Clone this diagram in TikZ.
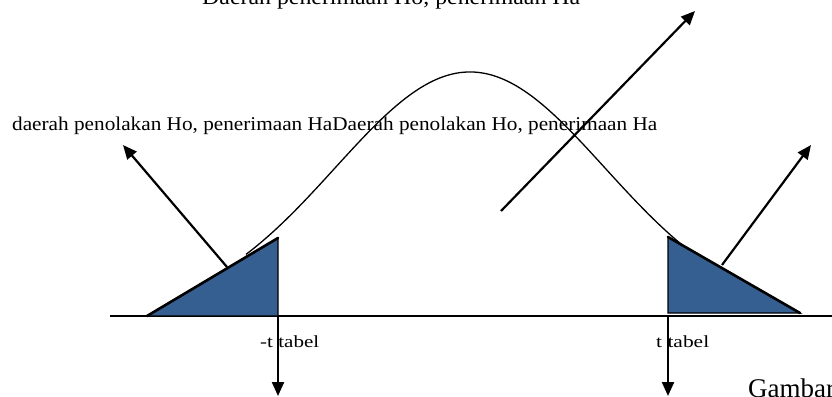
\documentclass[tikz,border=0pt]{standalone}
\usepackage{fontspec}
\setmainfont{Liberation Serif}
\usepackage{graphicx}
\usetikzlibrary{arrows.meta}
\definecolor{regblue}{RGB}{54,95,145}
\begin{document}
\begin{tikzpicture}[x=1pt,y=-1pt,
  arr/.style={line width=2.2pt,-{Triangle[length=14pt,width=12pt]}},
  txt/.style={inner sep=0pt,anchor=base west},
  reg/.style={fill=regblue,draw=black,line width=1.4pt,line join=miter},
  hyp/.style={line width=2.6pt,line cap=round},
  curve/.style={line width=1.3pt}]
\clip (0,0) rectangle (832,396);
\useasboundingbox (0,0) rectangle (832,396);
% axis
\coordinate (axL) at (110,316);
\coordinate (axR) at (832,316);
\draw[line width=1.8pt] (axL) -- (axR);
% bell curve
\draw[curve] plot[domain=246:688, samples=90, smooth]
  (\x, {316-244*exp(-0.5*((\x-470)/135)^2)});
% rejection regions
\coordinate (lt1) at (147,316);
\coordinate (lt2) at (278,238);
\coordinate (lt3) at (278,316);
\coordinate (rt1) at (668,237);
\coordinate (rt2) at (668,313);
\coordinate (rt3) at (800,313);
\filldraw[reg] (lt1) -- (lt2) -- (lt3) -- cycle;
\draw[hyp] (lt1) -- (lt2);
\filldraw[reg] (rt1) -- (rt2) -- (rt3) -- cycle;
\draw[hyp] (rt1) -- (rt3);
% texts
\node[txt] (acc) at (202,5) {\resizebox{378pt}{\height}{\fontsize{22}{26}\selectfont Daerah penerimaan Ho, penerimaan Ha}};
\node[txt] (rej) at (12,130) {\resizebox{645pt}{\height}{\fontsize{19.5}{23}\selectfont daerah penolakan Ho, penerimaan HaDaerah penolakan Ho, penerimaan Ha}};
\node[txt] (tneg) at (260,347) {\resizebox{59pt}{\height}{\fontsize{17}{20}\selectfont -t tabel}};
\node[txt] (tpos) at (656,347) {\resizebox{53pt}{\height}{\fontsize{17}{20}\selectfont t tabel}};
\node[txt] (cap) at (748,397) {\fontsize{27}{32}\selectfont Gambar};
% arrows
\coordinate (la0) at (227,267);
\coordinate (la1) at (123,145);
\coordinate (ma0) at (501,211);
\coordinate (ma1) at (695,11);
\coordinate (ra0) at (722,265);
\coordinate (ra1) at (811,145);
\coordinate (ba1) at (278,396);
\coordinate (bb1) at (668,396);
\draw[arr] (la0) -- (la1);
\draw[arr] (ma0) -- (ma1);
\draw[arr] (ra0) -- (ra1);
\draw[arr] (lt3) -- (ba1);
\draw[arr] (rt2 |- axL) -- (bb1);
\end{tikzpicture}
\end{document}
